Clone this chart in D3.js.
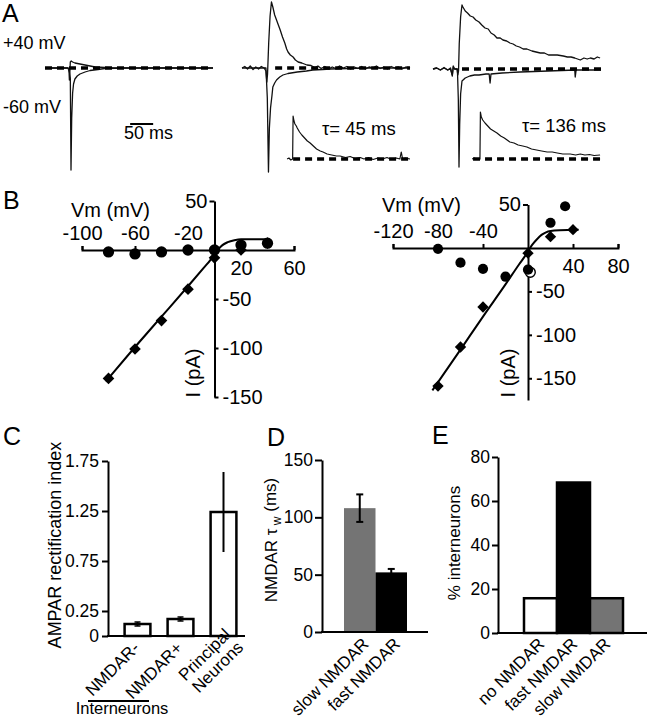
<!DOCTYPE html>
<html><head><meta charset="utf-8">
<script src="https://cdn.jsdelivr.net/npm/d3@7/dist/d3.min.js"></script>
<style>
html,body{margin:0;padding:0;background:#fff;}
svg{display:block;}
</style></head>
<body>
<svg id="fig" width="648" height="719"></svg>
<script>
// ================= DATA =================
// Panel A: current traces, [time (ms), current (a.u.)]
const traceL_neg60 = [[0,0],[40,0],[50,0],[53,-4],[55,-10],[56.5,-102],[58,-50],[60,-25],[62,-16],[65,-11],[70,-8],[76,-6],[87,-4],[98,-2.5],[115,-1.5],[130,-0.5],[174,0],[365,0]];
const traceL_pos40 = [[0,0],[50,0],[52,-1],[53,-12],[54,-4],[55,6],[57,7],[60,6],[65,5],[76,4],[87,3],[98,2],[109,1],[130,0.5],[150,0],[365,0]];
const traceM_neg60 = [[0,0],[40,0],[52,0],[55,-30],[57.5,-104],[59.5,-60],[62,-40],[65,-28],[67,-19],[71,-15],[75,-12],[82,-9],[89,-7],[100,-5.5],[120,-4],[140,-3],[154,-2],[175,-1.5],[191,-1],[230,-0.5],[270,0],[365,0]];
const traceM_pos40 = [[0,0],[6,1.5],[12,-1],[18,2],[24,-1.5],[30,1],[36,-1],[42,1.5],[48,0],[52,-3],[54,-14],[55.5,-6],[58,25],[61,52],[64,66],[67,61],[71,53],[75,48],[79,43],[83,38],[88,31],[93,25],[97,19],[100,16],[105,13],[111,11],[116,8],[122,6],[130,5],[141,3],[150,2.5],[158,0.5],[165,2],[172,-0.5],[180,1.5],[188,-1],[196,1],[204,-0.5],[212,2],[220,0],[228,1.5],[236,-1],[244,1],[252,-0.5],[260,1.5],[268,-1],[276,1],[284,0],[292,2],[300,-0.5],[308,1],[316,-1],[324,1.5],[332,0],[340,1],[348,-1],[356,1],[365,0]];
const traceM_inset = [[98,0],[102,1],[106,-1],[110,0],[111,43],[113,38],[115,35],[118,33],[120,31],[125,27],[130,24],[136,21],[142,18],[148,16],[155,13],[162,10],[170,8],[176,7],[185,5],[195,4],[205,3],[213,3],[225,1.5],[235,2.5],[245,0.5],[257,1.5],[265,0],[275,1.5],[285,-0.5],[295,1],[305,0],[315,1.5],[325,-0.5],[335,1],[343,0],[346,7],[349,0],[355,1],[365,0]];
const traceR_neg60 = [[0,0],[8,1],[16,-1],[24,1],[32,-1],[38,0],[42,-6],[44,2],[47,0],[53,0],[55,-30],[56.5,-98],[58,-55],[60,-25],[63,-12],[70,-9],[80,-7],[90,-6],[100,-6],[115,-5],[122,-5],[124,-14],[126,-5],[150,-4],[189,-3],[220,-2.5],[250,-2],[280,-1.5],[308,-1],[309,-8],[311,-1],[340,-1],[365,-1]];
const traceR_pos40 = [[0,0],[8,1],[16,-1],[24,1.5],[32,-1],[38,1],[42,-7],[44,3],[47,0],[52,0],[54,-6],[55.5,-2],[57,25],[60,52],[63,64],[65,62],[70,58],[75,56],[81,53],[87,52],[93,49],[100,47],[106,44],[113,41],[120,40],[126,36],[133,34],[139,31],[146,31],[152,29],[160,28],[167,26],[174,25],[181,23],[188,22],[196,20],[204,20],[215,18],[224,17],[233,16],[242,16],[251,14],[260,14],[270,14],[283,13],[292,12],[300,12],[308,11],[314,10],[320,9],[328,11],[335,10],[342,11],[350,10],[357,12],[363,11]];
const traceR_inset = [[85,0],[90,1],[95,-0.5],[100,0.5],[102,0],[103,47],[105,42],[108,39],[113,36],[119,33],[125,30],[132,28],[139,26],[147,23],[155,21],[161,19],[167,17],[176,16],[185,14],[195,13],[204,12],[214,10],[225,9],[236,8],[248,7],[259,7],[270,6],[282,5],[298,5],[310,4],[320,5],[330,4],[340,4.5],[350,3.5],[363,4]];
const holdingLabels = ["+40 mV", "-60 mV"];
const tauLabels = ["τ= 45 ms", "τ= 136 ms"];
const scaleBarMs = 50;

// Panel B (left): I-V
const bL_vm = [-80,-60,-40,-20,0,20,40];
const bL_circles = [-2,-4,-2,0,0,5,7];
const bL_diamonds = [-131,-101,-72,-40,-8,0,7];
const bL_fitVm = [-82,-60,-40,-20,-8,-3,0,3,6,10,15,20,28,40];
const bL_fitI  = [-134,-99,-68,-37,-18,-10,-4,1,5,8,10,11,11,11];
const bL_xTicks = [-100,-60,-20,20,60];
const bL_yTicks = [50,-50,-100,-150];
// Panel B (right)
const bR_circleVm = [-80,-60,-40,-20,0,20,33];
const bR_circles = [-1,-17,-24,-33,-25,29,48];
const bR_openVm = [2];
const bR_open = [-28];
const bR_diamondVm = [-80,-60,-40,0,20,40];
const bR_diamonds = [-159,-114,-68,-6,13,21];
const bR_fitVm = [-85,-60,-40,-20,-8,-3,0,4,8,12,16,20,28,45];
const bR_fitI  = [-164,-117,-79,-42,-19,-10,-4,4,10,15,18,19.5,20.5,21];
const bR_xTicks = [-120,-80,-40,40,80];
const bR_yTicks = [50,-50,-100,-150];

// Panel C
const cCategories = ["NMDAR-","NMDAR+","Principal Neurons"];
const cValues = [0.12, 0.17, 1.24];
const cErrors = [0.02, 0.02, 0.40];
const cTicks = [0, 0.25, 0.75, 1.25, 1.75];

// Panel D
const dCategories = ["slow NMDAR","fast NMDAR"];
const dValues = [108, 52];
const dErrors = [12, 3];
const dTicks = [0, 50, 100, 150];

// Panel E
const eCategories = ["no NMDAR","fast NMDAR","slow NMDAR"];
const eValues = [15.8, 68.4, 15.8];
const eTicks = [0, 20, 40, 60, 80];

// ================= DRAWING =================
const FONT = "'Liberation Sans', Arial, Helvetica, sans-serif";
const GRAY = "#747474";
const svg = d3.select("#fig");

function txt(x, y, s, fs, anchor, rot) {
  return svg.append("text").attr("font-family", FONT).attr("font-size", fs)
    .attr("text-anchor", anchor || "start").attr("fill", "#000")
    .attr("transform", `translate(${x},${y})` + (rot ? ` rotate(${rot})` : "")).text(s);
}
function styleAxis(s, fs) {
  s.attr("font-family", FONT).attr("font-size", fs);
  s.selectAll(".domain, .tick line").attr("stroke", "#000").attr("stroke-width", 2);
  s.selectAll("text").attr("fill", "#000");
}

// panel letters
[["A",2,22],["B",3,209],["C",3,445],["D",267,446],["E",432,444]].forEach(d => txt(d[1], d[2], d[0], 25));

// ---------- Panel A ----------
txt(3, 49, holdingLabels[0], 18);
txt(3, 113, holdingLabels[1], 18);
const aPanels = [
  {x0:45, base:68, main:[traceL_neg60, traceL_pos40], dash:[0,365]},
  {x0:242, base:68, main:[traceM_neg60, traceM_pos40], dash:[72,365], inset:traceM_inset, insetBase:159, insetDash:[111,365], tau:tauLabels[0], tauX:322, tauY:135},
  {x0:433, base:69, main:[traceR_neg60, traceR_pos40], dash:[63,365], inset:traceR_inset, insetBase:159, insetDash:[87,365], tau:tauLabels[1], tauX:522, tauY:132}
];
aPanels.forEach((p, i) => {
  const tx = d3.scaleLinear().domain([0, 365]).range([p.x0, p.x0 + 168]);
  const ty = d3.scaleLinear().domain([0, 1]).range([p.base, p.base - 1]);
  const line = d3.line().x(d => tx(d[0])).y(d => ty(d[1]));
  p.main.forEach(tr => svg.append("path").attr("d", line(tr)).attr("fill", "none")
    .attr("stroke", "#111").attr("stroke-width", 1.3).attr("stroke-linejoin", "round"));
  svg.append("line").attr("x1", tx(p.dash[0])).attr("x2", tx(p.dash[1]))
    .attr("y1", ty(0)).attr("y2", ty(0)).attr("stroke", "#000").attr("stroke-width", 3.5).attr("stroke-dasharray", "7,5");
  if (p.inset) {
    const ty2 = d3.scaleLinear().domain([0, 1]).range([p.insetBase, p.insetBase - 1]);
    const line2 = d3.line().x(d => tx(d[0])).y(d => ty2(d[1]));
    svg.append("path").attr("d", line2(p.inset)).attr("fill", "none")
      .attr("stroke", "#111").attr("stroke-width", 1.2).attr("stroke-linejoin", "round");
    svg.append("line").attr("x1", tx(p.insetDash[0])).attr("x2", tx(p.insetDash[1]))
      .attr("y1", ty2(0)).attr("y2", ty2(0)).attr("stroke", "#000").attr("stroke-width", 3.5).attr("stroke-dasharray", "7,5");
    txt(p.tauX, p.tauY, p.tau, 18.5);
  }
  if (i === 0) {
    svg.append("line").attr("x1", tx(185)).attr("x2", tx(185 + scaleBarMs)).attr("y1", 124).attr("y2", 124)
      .attr("stroke", "#000").attr("stroke-width", 2);
    txt(124, 139, scaleBarMs + " ms", 18);
  }
});

// ---------- Panel B ----------
const BFS = 20;
function panelB(c) {
  const x = d3.scaleLinear().domain(c.xDomain).range(c.xRange);
  const y = d3.scaleLinear().domain(c.yDomain).range(c.yRange);
  const y0 = y(0), x0 = x(0);
  svg.append("g").attr("transform", `translate(0,${y0})`)
    .call(d3.axisTop(x).tickValues(c.xTicks).tickSize(4).tickSizeOuter(4).tickPadding(6)
      .tickFormat(d => d < 0 ? String(d) : ""))
    .call(s => styleAxis(s, BFS));
  svg.append("g").attr("transform", `translate(0,${y0})`)
    .call(d3.axisBottom(x).tickValues(c.xTicks.filter(d => d > 0)).tickSize(0).tickPadding(11).tickFormat(String))
    .call(s => { s.select(".domain").remove(); styleAxis(s, BFS); });
  svg.append("g").attr("transform", `translate(${x0},0)`)
    .call(d3.axisRight(y).tickValues(c.yTicks.filter(d => d < 0)).tickSize(4).tickSizeOuter(0).tickPadding(4).tickFormat(String))
    .call(s => styleAxis(s, BFS));
  svg.append("g").attr("transform", `translate(${x0},0)`)
    .call(d3.axisLeft(y).tickValues(c.yTicks.filter(d => d > 0)).tickSize(5).tickPadding(2).tickFormat(String))
    .call(s => { s.select(".domain").remove(); styleAxis(s, BFS); });
  // fit line
  const fit = c.fitVm.map((v, i) => [v, c.fitI[i]]);
  svg.append("path").attr("d", d3.line().curve(d3.curveMonotoneX).x(d => x(d[0])).y(d => y(d[1]))(fit))
    .attr("fill", "none").attr("stroke", "#000").attr("stroke-width", 2);
  // open circles
  if (c.openVm) c.openVm.forEach((v, i) => svg.append("circle").attr("cx", x(v)).attr("cy", y(c.open[i]))
    .attr("r", 5).attr("fill", "#fff").attr("stroke", "#000").attr("stroke-width", 1.4));
  // diamonds
  const sq = d3.symbol(d3.symbolSquare, c.dSize);
  c.diamondVm.forEach((v, i) => svg.append("path").attr("d", sq())
    .attr("transform", `translate(${x(v)},${y(c.diamonds[i])}) rotate(45)`).attr("fill", "#000"));
  // circles
  const ci = d3.symbol(d3.symbolCircle, c.cSize);
  c.circleVm.forEach((v, i) => svg.append("path").attr("d", ci())
    .attr("transform", `translate(${x(v)},${y(c.circles[i])})`).attr("fill", "#000"));
  txt(c.vmX, c.vmY, "Vm (mV)", BFS);
  txt(c.iX, c.iY, "I (pA)", BFS, "middle", -90);
}
panelB({xDomain:[-100,60], xRange:[82,294], yDomain:[-150,50], yRange:[397,201],
  xTicks:bL_xTicks, yTicks:bL_yTicks, fitVm:bL_fitVm, fitI:bL_fitI,
  diamondVm:bL_vm, diamonds:bL_diamonds, circleVm:bL_vm, circles:bL_circles,
  dSize:68, cSize:100, vmX:71, vmY:217, iX:200, iY:373});
panelB({xDomain:[-120,80], xRange:[393,618], yDomain:[-175,50], yRange:[400,204.5],
  xTicks:bR_xTicks, yTicks:bR_yTicks, fitVm:bR_fitVm, fitI:bR_fitI,
  diamondVm:bR_diamondVm, diamonds:bR_diamonds, circleVm:bR_circleVm, circles:bR_circles,
  openVm:bR_openVm, open:bR_open,
  dSize:64, cSize:82, vmX:382, vmY:212, iX:515, iY:373});

// ---------- bar panel helper ----------
function rotLabel(x, y, lines, fs) {
  const t = svg.append("text").attr("font-family", FONT).attr("font-size", fs).attr("text-anchor", "end")
    .attr("fill", "#000").attr("transform", `translate(${x},${y}) rotate(-45)`);
  const n = lines.length;
  lines.forEach((l, i) => t.append("tspan").attr("x", 0).attr("dy", i === 0 ? (-(n - 1) * 0.53) + "em" : "1.06em").text(l));
}

// ---------- Panel C ----------
{
  const y = d3.scaleLinear().domain([0, 1.75]).range([636, 461]);
  const x = d3.scaleBand().domain(cCategories).range([116, 245]).paddingInner(0.4).paddingOuter(0.2);
  svg.append("g").attr("transform", "translate(108,0)")
    .call(d3.axisLeft(y).tickValues(cTicks).tickSize(6).tickSizeOuter(0).tickPadding(3).tickFormat(String))
    .call(s => styleAxis(s, 17.5));
  svg.append("line").attr("x1", 107).attr("x2", 245).attr("y1", y(0)).attr("y2", y(0)).attr("stroke", "#000").attr("stroke-width", 2);
  cCategories.forEach((c, i) => {
    svg.append("rect").attr("x", x(c)).attr("y", y(cValues[i])).attr("width", x.bandwidth())
      .attr("height", y(0) - y(cValues[i])).attr("fill", "#fff").attr("stroke", "#000").attr("stroke-width", 2.5);
  });
  cCategories.forEach((c, i) => {
    const cx = x(c) + x.bandwidth() / 2;
    svg.append("line").attr("x1", cx).attr("x2", cx).attr("y1", y(cValues[i] - cErrors[i])).attr("y2", y(cValues[i] + cErrors[i]))
      .attr("stroke", "#000").attr("stroke-width", 2);
    if (cErrors[i] < 0.1) {
      [cValues[i] - cErrors[i], cValues[i] + cErrors[i]].forEach(v => svg.append("line")
        .attr("x1", cx - 3).attr("x2", cx + 3).attr("y1", y(v)).attr("y2", y(v)).attr("stroke", "#000").attr("stroke-width", 1.5));
    }
    const lines = c.split(" ");
    if (lines.length === 1) rotLabel(cx + 3, y(0) + 13, lines, 17);
    else rotLabel(cx + 14.5, y(0) + 6, lines, 17);
  });
  svg.append("line").attr("x1", 88).attr("x2", 149).attr("y1", 701).attr("y2", 701).attr("stroke", "#000").attr("stroke-width", 2);
  txt(122, 714, "Interneurons", 16.5, "middle");
  txt(61, 545, "AMPAR rectification index", 18, "middle", -90);
}

// ---------- Panel D ----------
{
  const y = d3.scaleLinear().domain([0, 150]).range([632, 460]);
  const x = d3.scaleBand().domain(dCategories).range([344, 407]).padding(0);
  const dColors = [GRAY, "#000"];
  svg.append("g").attr("transform", "translate(322,0)")
    .call(d3.axisLeft(y).tickValues(dTicks).tickSize(7).tickSizeOuter(0).tickPadding(2).tickFormat(String))
    .call(s => styleAxis(s, 17.5));
  dCategories.forEach((c, i) => {
    svg.append("rect").attr("x", x(c)).attr("y", y(dValues[i])).attr("width", x.bandwidth())
      .attr("height", y(0) - y(dValues[i])).attr("fill", dColors[i]);
  });
  svg.append("line").attr("x1", 321).attr("x2", 428).attr("y1", y(0)).attr("y2", y(0)).attr("stroke", "#000").attr("stroke-width", 2);
  dCategories.forEach((c, i) => {
    const cx = x(c) + x.bandwidth() / 2;
    svg.append("line").attr("x1", cx).attr("x2", cx).attr("y1", y(dValues[i] - dErrors[i])).attr("y2", y(dValues[i] + dErrors[i]))
      .attr("stroke", "#000").attr("stroke-width", 2);
    [dValues[i] - dErrors[i], dValues[i] + dErrors[i]].forEach(v => svg.append("line")
      .attr("x1", cx - 3.5).attr("x2", cx + 3.5).attr("y1", y(v)).attr("y2", y(v)).attr("stroke", "#000").attr("stroke-width", 2));
    rotLabel(cx + 10, y(0) + 13, [c], 17);
  });
  const t = svg.append("text").attr("font-family", FONT).attr("font-size", 17).attr("text-anchor", "middle")
    .attr("fill", "#000").attr("transform", "translate(277,540) rotate(-90)");
  t.append("tspan").text("NMDAR τ");
  t.append("tspan").attr("font-size", 12).attr("dy", "0.3em").text(" w");
  t.append("tspan").attr("dy", "-0.3em").text(" (ms)");
}

// ---------- Panel E ----------
{
  const y = d3.scaleLinear().domain([0, 80]).range([633, 457]);
  const x = d3.scaleBand().domain(eCategories).range([524, 623]).padding(0);
  const eColors = ["#fff", "#000", GRAY];
  svg.append("g").attr("transform", "translate(498,0)")
    .call(d3.axisLeft(y).tickValues(eTicks).tickSize(6).tickSizeOuter(0).tickPadding(2).tickFormat(String))
    .call(s => styleAxis(s, 17.5));
  eCategories.forEach((c, i) => {
    svg.append("rect").attr("x", x(c)).attr("y", y(eValues[i])).attr("width", x.bandwidth())
      .attr("height", y(0) - y(eValues[i])).attr("fill", eColors[i]).attr("stroke", "#000").attr("stroke-width", 2.5);
  });
  svg.append("line").attr("x1", 497).attr("x2", 647).attr("y1", y(0)).attr("y2", y(0)).attr("stroke", "#000").attr("stroke-width", 2);
  eCategories.forEach((c, i) => {
    const cx = x(c) + x.bandwidth() / 2;
    rotLabel(cx + 5, y(0) + 12, [c], 17);
  });
  txt(460, 543, "% interneurons", 17, "middle", -90);
}
</script>
</body></html>
